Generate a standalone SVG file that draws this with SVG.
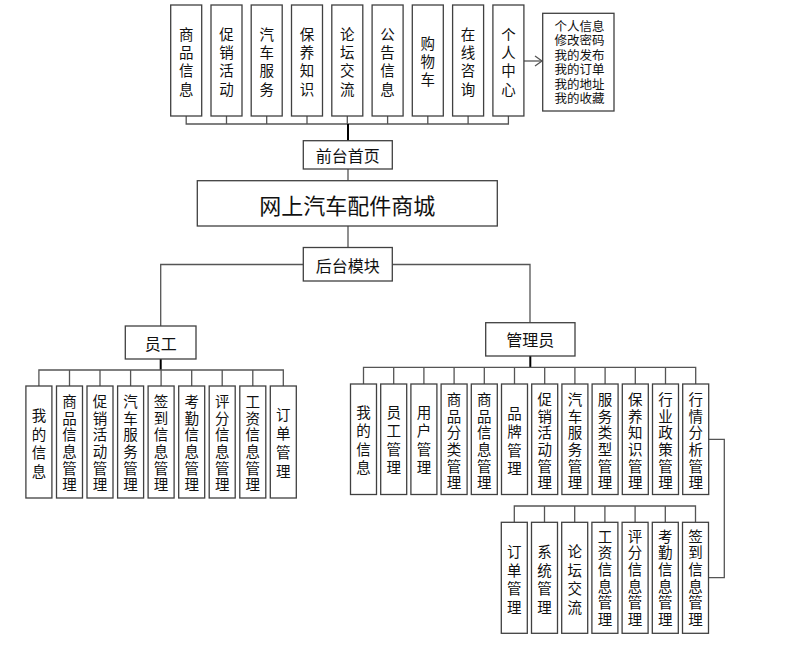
<svg xmlns="http://www.w3.org/2000/svg" width="795" height="654" viewBox="0 0 795 654">
<style>
.b{fill:#fff;stroke:#404040;stroke-width:1.3}
.c{fill:none;stroke:#555;stroke-width:1.3}
.k{fill:none;stroke:#000;stroke-width:2}
text{font-family:"Noto Sans CJK SC","Noto Sans",sans-serif;fill:#111;text-anchor:middle;dominant-baseline:central}
.v{font-size:14.5px}
.m{font-size:16px}
.t{font-size:22px}
.i{font-size:12.5px}
</style>
<defs>
<marker id="ah" markerWidth="10" markerHeight="12" refX="8" refY="6" orient="auto" markerUnits="userSpaceOnUse">
<path d="M1,1 L8,6 L1,11" fill="none" stroke="#555" stroke-width="1.3"/>
</marker>
</defs>
<rect width="795" height="654" fill="#fff"/>
<g id="connectors">
<path class="c" d="M186.2,116V124H508.4V116M226.5,116V124M266.7,116V124M307,116V124M347.3,116V124M387.6,116V124M427.8,116V124M468.1,116V124"/>
<path class="k" d="M348,124V141"/>
<path class="c" d="M348,169V181M348,226V247.5"/>
<path class="c" d="M303.3,264.5H160.7V326M392.3,264.5H530V322.7"/>
<path class="k" d="M160.7,359V370"/>
<path class="c" d="M38.9,386V370H283.3V386M69.5,370V386M100,370V386M130.6,370V386M161.1,370V386M191.7,370V386M222.2,370V386M252.8,370V386"/>
<path class="k" d="M530.3,356V367.3"/>
<path class="c" d="M363.5,384V367.3H695.7V384M393.7,367.3V384M423.9,367.3V384M454.1,367.3V384M484.3,367.3V384M514.5,367.3V384M544.7,367.3V384M574.9,367.3V384M605.1,367.3V384M635.3,367.3V384M665.5,367.3V384"/>
<path class="c" d="M514.3,522.3V506H695.5V522.3M544.5,506V522.3M574.7,506V522.3M604.9,506V522.3M635.1,506V522.3M665.3,506V522.3"/>
<path class="c" d="M708.7,439.3H724.3V577.7H708.5"/>
<path class="c" d="M523.9,61H542" marker-end="url(#ah)"/>
</g>
<g id="top-1"><rect class="b" x="170.7" y="5" width="31" height="111"/><text class="v" x="186.2 186.2 186.2 186.2" y="33.3 51.6 69.9 88.2">商品信息</text></g>
<g id="top-2"><rect class="b" x="211" y="5" width="31" height="111"/><text class="v" x="226.5 226.5 226.5 226.5" y="33.3 51.6 69.9 88.2">促销活动</text></g>
<g id="top-3"><rect class="b" x="251.2" y="5" width="31" height="111"/><text class="v" x="266.7 266.7 266.7 266.7" y="33.3 51.6 69.9 88.2">汽车服务</text></g>
<g id="top-4"><rect class="b" x="291.5" y="5" width="31" height="111"/><text class="v" x="307 307 307 307" y="33.3 51.6 69.9 88.2">保养知识</text></g>
<g id="top-5"><rect class="b" x="331.8" y="5" width="31" height="111"/><text class="v" x="347.3 347.3 347.3 347.3" y="33.3 51.6 69.9 88.2">论坛交流</text></g>
<g id="top-6"><rect class="b" x="372.1" y="5" width="31" height="111"/><text class="v" x="387.6 387.6 387.6 387.6" y="33.3 51.6 69.9 88.2">公告信息</text></g>
<g id="top-7"><rect class="b" x="412.3" y="5" width="31" height="111"/><text class="v" x="427.8 427.8 427.8" y="42.3 60.6 78.9">购物车</text></g>
<g id="top-8"><rect class="b" x="452.6" y="5" width="31" height="111"/><text class="v" x="468.1 468.1 468.1 468.1" y="33.3 51.6 69.9 88.2">在线咨询</text></g>
<g id="top-9"><rect class="b" x="492.9" y="5" width="31" height="111"/><text class="v" x="508.4 508.4 508.4 508.4" y="33.3 51.6 69.9 88.2">个人中心</text></g>
<g id="personal-info"><rect class="b" x="542.7" y="13.3" width="71.3" height="97.7"/>
<text class="i" x="579.5" y="25">个人信息</text><text class="i" x="579.5" y="39.5">修改密码</text><text class="i" x="579.5" y="54">我的发布</text><text class="i" x="579.5" y="68.5">我的订单</text><text class="i" x="579.5" y="83">我的地址</text><text class="i" x="579.5" y="97.5">我的收藏</text></g>
<g id="front"><rect class="b" x="303.3" y="140.7" width="89" height="28.3"/><text class="m" x="347.8" y="155">前台首页</text></g>
<g id="main"><rect class="b" x="197.3" y="180.7" width="300" height="45.3"/><text class="t" x="347.3" y="203.5">网上汽车配件商城</text></g>
<g id="back"><rect class="b" x="303.3" y="247.5" width="89" height="33.5"/><text class="m" x="347.8" y="264.5">后台模块</text></g>
<g id="staff"><rect class="b" x="125.3" y="326" width="70.7" height="33"/><text class="m" x="160.7" y="342.5">员工</text></g>
<g id="admin"><rect class="b" x="485.7" y="322.7" width="89.3" height="33.3"/><text class="m" x="530.3" y="339.3">管理员</text></g>
<g id="s1"><rect class="b" x="25.9" y="386" width="26" height="112"/><text class="v" x="38.9 38.9 38.9 38.9" y="414.8 433.3 451.8 470.3">我的信息</text></g>
<g id="s2"><rect class="b" x="56.5" y="386" width="26" height="112"/><text class="v" x="69.5 69.5 69.5 69.5 69.5 69.5" y="400.3 417 433.7 450.3 467 483.7">商品信息管理</text></g>
<g id="s3"><rect class="b" x="87" y="386" width="26" height="112"/><text class="v" x="100 100 100 100 100 100" y="400.3 417 433.7 450.3 467 483.7">促销活动管理</text></g>
<g id="s4"><rect class="b" x="117.6" y="386" width="26" height="112"/><text class="v" x="130.6 130.6 130.6 130.6 130.6 130.6" y="400.3 417 433.7 450.3 467 483.7">汽车服务管理</text></g>
<g id="s5"><rect class="b" x="148.1" y="386" width="26" height="112"/><text class="v" x="161.1 161.1 161.1 161.1 161.1 161.1" y="400.3 417 433.7 450.3 467 483.7">签到信息管理</text></g>
<g id="s6"><rect class="b" x="178.7" y="386" width="26" height="112"/><text class="v" x="191.7 191.7 191.7 191.7 191.7 191.7" y="400.3 417 433.7 450.3 467 483.7">考勤信息管理</text></g>
<g id="s7"><rect class="b" x="209.2" y="386" width="26" height="112"/><text class="v" x="222.2 222.2 222.2 222.2 222.2 222.2" y="400.3 417 433.7 450.3 467 483.7">评分信息管理</text></g>
<g id="s8"><rect class="b" x="239.8" y="386" width="26" height="112"/><text class="v" x="252.8 252.8 252.8 252.8 252.8 252.8" y="400.3 417 433.7 450.3 467 483.7">工资信息管理</text></g>
<g id="s9"><rect class="b" x="270.3" y="386" width="26" height="112"/><text class="v" x="283.3 283.3 283.3 283.3" y="413 432 451 470">订单管理</text></g>
<g id="a1"><rect class="b" x="350.5" y="384" width="26" height="110.5"/><text class="v" x="363.5 363.5 363.5 363.5" y="411 429.5 448 466.5">我的信息</text></g>
<g id="a2"><rect class="b" x="380.7" y="384" width="26" height="110.5"/><text class="v" x="393.7 393.7 393.7 393.7" y="411 429.5 448 466.5">员工管理</text></g>
<g id="a3"><rect class="b" x="410.9" y="384" width="26" height="110.5"/><text class="v" x="423.9 423.9 423.9 423.9" y="411 429.5 448 466.5">用户管理</text></g>
<g id="a4"><rect class="b" x="441.1" y="384" width="26" height="110.5"/><text class="v" x="454.1 454.1 454.1 454.1 454.1 454.1" y="398.3 415 431.7 448.3 465 481.7">商品分类管理</text></g>
<g id="a5"><rect class="b" x="471.3" y="384" width="26" height="110.5"/><text class="v" x="484.3 484.3 484.3 484.3 484.3 484.3" y="398.3 415 431.7 448.3 465 481.7">商品信息管理</text></g>
<g id="a6"><rect class="b" x="501.5" y="384" width="26" height="110.5"/><text class="v" x="514.5 514.5 514.5 514.5" y="412 430.5 449 467.5">品牌管理</text></g>
<g id="a7"><rect class="b" x="531.7" y="384" width="26" height="110.5"/><text class="v" x="544.7 544.7 544.7 544.7 544.7 544.7" y="398.3 415 431.7 448.3 465 481.7">促销活动管理</text></g>
<g id="a8"><rect class="b" x="561.9" y="384" width="26" height="110.5"/><text class="v" x="574.9 574.9 574.9 574.9 574.9 574.9" y="398.3 415 431.7 448.3 465 481.7">汽车服务管理</text></g>
<g id="a9"><rect class="b" x="592.1" y="384" width="26" height="110.5"/><text class="v" x="605.1 605.1 605.1 605.1 605.1 605.1" y="398.3 415 431.7 448.3 465 481.7">服务类型管理</text></g>
<g id="a10"><rect class="b" x="622.3" y="384" width="26" height="110.5"/><text class="v" x="635.3 635.3 635.3 635.3 635.3 635.3" y="398.3 415 431.7 448.3 465 481.7">保养知识管理</text></g>
<g id="a11"><rect class="b" x="652.5" y="384" width="26" height="110.5"/><text class="v" x="665.5 665.5 665.5 665.5 665.5 665.5" y="398.3 415 431.7 448.3 465 481.7">行业政策管理</text></g>
<g id="a12"><rect class="b" x="682.7" y="384" width="26" height="110.5"/><text class="v" x="695.7 695.7 695.7 695.7 695.7 695.7" y="398.3 415 431.7 448.3 465 481.7">行情分析管理</text></g>
<g id="b1"><rect class="b" x="501.3" y="522.3" width="26" height="111"/><text class="v" x="514.3 514.3 514.3 514.3" y="550.5 569 587.5 606">订单管理</text></g>
<g id="b2"><rect class="b" x="531.5" y="522.3" width="26" height="111"/><text class="v" x="544.5 544.5 544.5 544.5" y="550.5 569 587.5 606">系统管理</text></g>
<g id="b3"><rect class="b" x="561.7" y="522.3" width="26" height="111"/><text class="v" x="574.7 574.7 574.7 574.7" y="550.5 569 587.5 606">论坛交流</text></g>
<g id="b4"><rect class="b" x="591.9" y="522.3" width="26" height="111"/><text class="v" x="604.9 604.9 604.9 604.9 604.9 604.9" y="535 551.7 568.3 585 601.7 618.3">工资信息管理</text></g>
<g id="b5"><rect class="b" x="622.1" y="522.3" width="26" height="111"/><text class="v" x="635.1 635.1 635.1 635.1 635.1 635.1" y="535 551.7 568.3 585 601.7 618.3">评分信息管理</text></g>
<g id="b6"><rect class="b" x="652.3" y="522.3" width="26" height="111"/><text class="v" x="665.3 665.3 665.3 665.3 665.3 665.3" y="535 551.7 568.3 585 601.7 618.3">考勤信息管理</text></g>
<g id="b7"><rect class="b" x="682.5" y="522.3" width="26" height="111"/><text class="v" x="695.5 695.5 695.5 695.5 695.5 695.5" y="535 551.7 568.3 585 601.7 618.3">签到信息管理</text></g>
</svg>
